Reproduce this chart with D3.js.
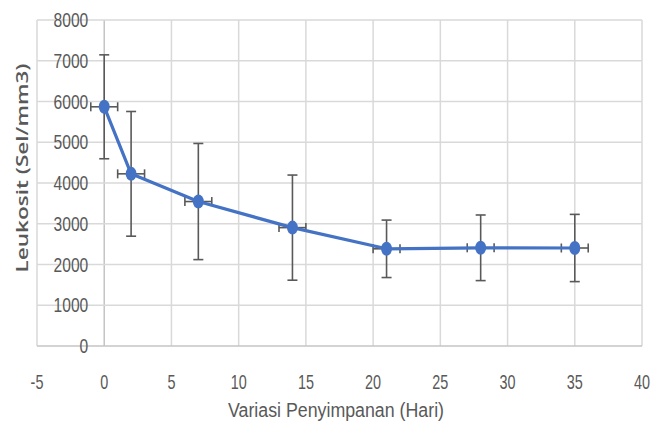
<!DOCTYPE html>
<html>
<head>
<meta charset="utf-8">
<script src="https://cdn.jsdelivr.net/npm/d3@7"></script>
<style>
  body { margin: 0; background: #fff; }
  text { fill: #595959; }
</style>
</head>
<body>
<div id="chart"></div>
<script>
// storage day vs leukocyte count, symmetric SD error bars
const days = [0, 2, 7, 14, 21, 28, 35];
const leukosit = [5870, 4225, 3545, 2905, 2385, 2410, 2405];
const sdY = [1275, 1530, 1425, 1290, 705, 805, 825];
const sdX = [1, 1, 1, 1, 1, 1, 1];
const xTicks = [-5, 0, 5, 10, 15, 20, 25, 30, 35, 40];
const yTicks = [0, 1000, 2000, 3000, 4000, 5000, 6000, 7000, 8000];

const W = 664, H = 441;

const data = days.map((d, i) => ({ x: d, y: leukosit[i], sy: sdY[i], sx: sdX[i] }));

const xScale = d3.scaleLinear().domain([-5, 40]).range([37, 642]);
const yScale = d3.scaleLinear().domain([0, 8000]).range([346, 20]);

const svg = d3.select("#chart")
  .append("svg")
  .attr("width", W)
  .attr("height", H);

// gridlines
svg.append("g")
  .selectAll("line")
  .data(xTicks)
  .join("line")
  .attr("x1", d => xScale(d))
  .attr("x2", d => xScale(d))
  .attr("y1", yScale(8000))
  .attr("y2", yScale(0))
  .attr("stroke", d => d === 0 ? "#c4c4c4" : "#d9d9d9")
  .attr("stroke-width", 1.5);

svg.append("g")
  .selectAll("line")
  .data(yTicks)
  .join("line")
  .attr("x1", xScale(-5))
  .attr("x2", xScale(40))
  .attr("y1", d => yScale(d))
  .attr("y2", d => yScale(d))
  .attr("stroke", d => d === 0 ? "#c4c4c4" : "#d9d9d9")
  .attr("stroke-width", 1.5);

// tick labels (narrowed, the source font is condensed)
const tickFont = "'Liberation Sans', Arial, sans-serif";
const squeeze = 0.78;

svg.append("g")
  .selectAll("text")
  .data(yTicks)
  .join("text")
  .attr("transform", d => `translate(${xScale(0) - 16},${yScale(d)}) scale(${squeeze},1)`)
  .attr("dy", "0.35em")
  .attr("text-anchor", "end")
  .attr("font-family", tickFont)
  .attr("font-size", 20)
  .text(d => d);

svg.append("g")
  .selectAll("text")
  .data(xTicks)
  .join("text")
  .attr("transform", d => `translate(${xScale(d)},382) scale(${squeeze - 0.06},1)`)
  .attr("dy", "0.35em")
  .attr("text-anchor", "middle")
  .attr("font-family", tickFont)
  .attr("font-size", 20)
  .text(d => d);

// axis titles
svg.append("text")
  .attr("x", 336)
  .attr("y", 410)
  .attr("dy", "0.35em")
  .attr("text-anchor", "middle")
  .attr("font-family", tickFont)
  .attr("font-size", 20)
  .attr("textLength", 216)
  .attr("lengthAdjust", "spacingAndGlyphs")
  .text("Variasi Penyimpanan (Hari)");

svg.append("text")
  .attr("transform", "translate(28,168) rotate(-90)")
  .attr("text-anchor", "middle")
  .attr("font-family", "'Open Sans', 'DejaVu Sans', sans-serif")
  .attr("font-weight", 600)
  .attr("font-size", 17)
  .attr("textLength", 209)
  .attr("lengthAdjust", "spacingAndGlyphs")
  .text("Leukosit (Sel/mm3)");

// error bars
const errG = svg.append("g")
  .attr("stroke", "#595959")
  .attr("stroke-width", 1.6)
  .attr("fill", "none");

const eb = errG.selectAll("g").data(data).join("g");

eb.append("line")
  .attr("x1", d => xScale(d.x)).attr("x2", d => xScale(d.x))
  .attr("y1", d => yScale(d.y + d.sy)).attr("y2", d => yScale(d.y - d.sy));
eb.append("line")
  .attr("x1", d => xScale(d.x) - 5).attr("x2", d => xScale(d.x) + 5)
  .attr("y1", d => yScale(d.y + d.sy)).attr("y2", d => yScale(d.y + d.sy));
eb.append("line")
  .attr("x1", d => xScale(d.x) - 5).attr("x2", d => xScale(d.x) + 5)
  .attr("y1", d => yScale(d.y - d.sy)).attr("y2", d => yScale(d.y - d.sy));

eb.append("line")
  .attr("x1", d => xScale(d.x - d.sx)).attr("x2", d => xScale(d.x + d.sx))
  .attr("y1", d => yScale(d.y)).attr("y2", d => yScale(d.y));
eb.append("line")
  .attr("x1", d => xScale(d.x - d.sx)).attr("x2", d => xScale(d.x - d.sx))
  .attr("y1", d => yScale(d.y) - 4.5).attr("y2", d => yScale(d.y) + 4.5);
eb.append("line")
  .attr("x1", d => xScale(d.x + d.sx)).attr("x2", d => xScale(d.x + d.sx))
  .attr("y1", d => yScale(d.y) - 4.5).attr("y2", d => yScale(d.y) + 4.5);

// series line
const line = d3.line()
  .x(d => xScale(d.x))
  .y(d => yScale(d.y));

svg.append("path")
  .datum(data)
  .attr("d", line)
  .attr("fill", "none")
  .attr("stroke", "#4472c4")
  .attr("stroke-width", 3.2)
  .attr("stroke-linejoin", "round");

// markers
svg.append("g")
  .selectAll("ellipse")
  .data(data)
  .join("ellipse")
  .attr("cx", d => xScale(d.x))
  .attr("cy", d => yScale(d.y))
  .attr("rx", 5.5)
  .attr("ry", 7)
  .attr("fill", "#4472c4");
</script>
</body>
</html>
